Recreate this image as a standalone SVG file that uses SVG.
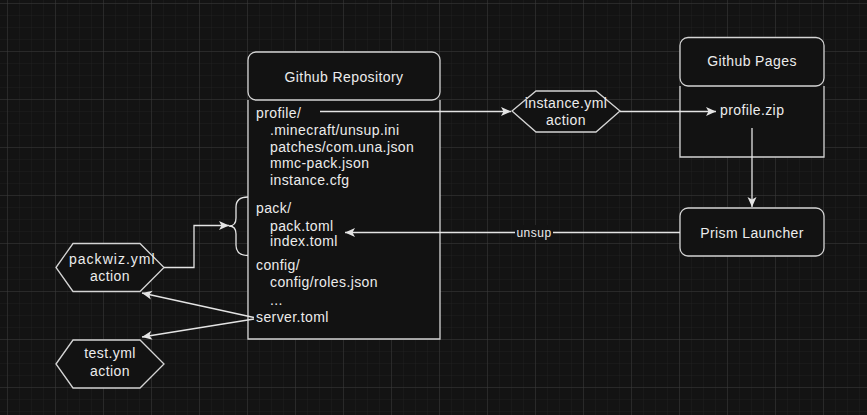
<svg xmlns="http://www.w3.org/2000/svg" width="867" height="415" viewBox="0 0 867 415">
<style>
text{font-family:"Liberation Sans",Arial,sans-serif;font-size:14px;fill:#ececec;letter-spacing:0.4px}
.c{text-anchor:middle}
.box{fill:#121212;stroke:#d4d4d4;stroke-width:1.3}
.ln{fill:none;stroke:#e4e4e4;stroke-width:1.3}
.lbl{font-size:12px;letter-spacing:0.5px}
</style>
<defs>
<pattern id="minor" x="7" y="3" width="12" height="12" patternUnits="userSpaceOnUse">
<path d="M0,0 H12 M0,0 V12" fill="none" stroke="#1f1f1f" stroke-width="1"/>
</pattern>
<pattern id="major" x="7" y="3" width="48" height="48" patternUnits="userSpaceOnUse">
<path d="M0,0 H48 M0,0 V48" fill="none" stroke="#3a3a3a" stroke-width="1"/>
</pattern>
<marker id="arr" markerWidth="11" markerHeight="10" refX="10" refY="5" orient="auto" markerUnits="userSpaceOnUse">
<path d="M0,0.5 L10,5 L0,9.5 L2.5,5 Z" fill="#e4e4e4"/>
</marker>
</defs>
<rect width="867" height="415" fill="#131313"/>
<rect width="867" height="415" fill="url(#minor)"/>
<rect width="867" height="415" fill="url(#major)"/>

<g id="github-repository">
<path class="box" d="M248,100 V339 H440 V100"/>
<rect class="box" x="248" y="52" width="192" height="48" rx="8"/>
<text class="c" x="344" y="82">Github Repository</text>
<text x="256" y="118">profile/</text>
<text x="270" y="135">.minecraft/unsup.ini</text>
<text x="270" y="151.5">patches/com.una.json</text>
<text x="270" y="168">mmc-pack.json</text>
<text x="270" y="185">instance.cfg</text>
<text x="256" y="213">pack/</text>
<text x="270" y="231">pack.toml</text>
<text x="270" y="246">index.toml</text>
<text x="256" y="270">config/</text>
<text x="270" y="287">config/roles.json</text>
<text x="270" y="305">...</text>
<text x="256" y="322">server.toml</text>
</g>

<g id="pack-brace">
<path class="ln" d="M248,197 Q236,197 236,207 V218 Q236,226 229,226 Q236,226 236,234 V245 Q236,255.5 248,255.5"/>
</g>

<g id="instance-action">
<polygon class="box" points="512,111 536,91 596,91 620,111 596,132 536,132"/>
<text class="c" x="566" y="107.5">instance.yml</text>
<text class="c" x="566" y="125">action</text>
</g>

<g id="github-pages">
<path class="box" d="M680,86 V157 H824 V86"/>
<rect class="box" x="680" y="37.5" width="144" height="48.5" rx="8"/>
<text class="c" x="752" y="66">Github Pages</text>
<text x="720" y="115">profile.zip</text>
</g>

<g id="prism-launcher">
<rect class="box" x="680" y="208" width="144" height="48" rx="8"/>
<text class="c" x="752" y="237.5">Prism Launcher</text>
</g>

<g id="packwiz-action">
<polygon class="box" points="56,267.5 73,243.5 140,243.5 164,267.5 140,291.5 73,291.5"/>
<text class="c" x="112" y="264" textLength="86" lengthAdjust="spacing">packwiz.yml</text>
<text class="c" x="110" y="281">action</text>
</g>

<g id="test-action">
<polygon class="box" points="56,364 73,340 140,340 164,364 140,388 73,388"/>
<text class="c" x="110" y="358">test.yml</text>
<text class="c" x="110" y="376">action</text>
</g>

<g id="connectors">
<path class="ln" d="M320,111.5 H511" marker-end="url(#arr)"/>
<path class="ln" d="M620,111.5 H716" marker-end="url(#arr)"/>
<path class="ln" d="M752,128 V207" marker-end="url(#arr)"/>
<path class="ln" d="M680,232.5 H345" marker-end="url(#arr)"/>
<rect x="515" y="225" width="38" height="15" fill="#131313"/>
<text class="lbl c" x="534" y="236.5">unsup</text>
<path class="ln" d="M164,267.5 H194 V225.5 H229" marker-end="url(#arr)"/>
<path class="ln" d="M254,317.5 L142,293" marker-end="url(#arr)"/>
<path class="ln" d="M254,319 L142,337" marker-end="url(#arr)"/>
</g>
</svg>
